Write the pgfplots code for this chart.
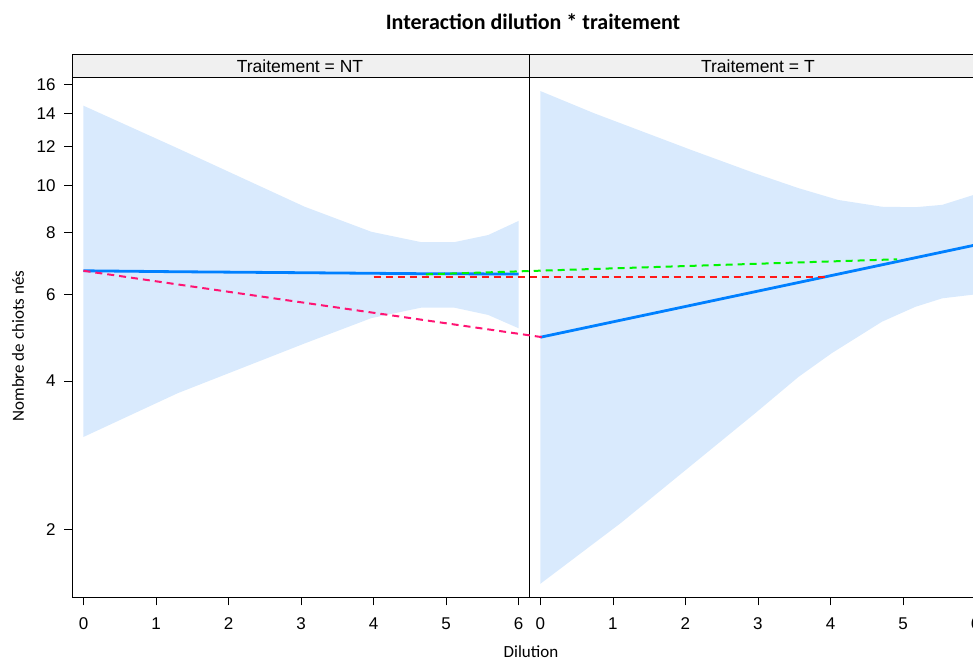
\documentclass[border=0pt]{standalone}
\usepackage{fontspec}
\setmainfont{Liberation Sans}
\newfontfamily\calibri{Carlito}
\usepackage{pgfplots}
\pgfplotsset{compat=1.18}

\definecolor{fitblue}{RGB}{0,128,255}
\definecolor{bandblue}{RGB}{217,234,253}
\definecolor{stripgray}{RGB}{240,240,240}
\definecolor{dpink}{RGB}{255,20,115}
\definecolor{dred}{RGB}{255,25,25}
\definecolor{dgreen}{RGB}{0,245,0}

\pgfplotsset{
  panel/.style={
    scale only axis, width=456.9pt, height=519.3pt,
    anchor=south west,
    xmin=-0.15, xmax=6.15,
    ymin=1.457, ymax=16.53,
    xtick={0,1,2,3,4,5,6}, xticklabels={0,1,2,3,4,5,6},
    tick pos=left, tick align=outside, major tick length=8.5pt,
    axis line style={line width=1pt},
    every tick/.style={black, line width=0.8pt},
    tick label style={font=\fontsize{17}{20}\selectfont},
    xticklabel style={yshift=-9pt},
    yticklabel style={xshift=-5pt},
    minor tick num=0,
  },
}

\begin{document}
\begin{tikzpicture}
\useasboundingbox (0pt,0pt) rectangle (973pt,-661pt);
\clip (0pt,0pt) rectangle (973pt,-661pt);

% Panel: Traitement = NT
\begin{axis}[ymode=log, panel, at={(72.6pt,-597pt)},
  ytick={2,4,6,8,10,12,14,16}, yticklabels={2,4,6,8,10,12,14,16}]
  \addplot[fill=bandblue, draw=none] coordinates {
    (0,14.50) (1.30,11.88) (3.05,9.04) (3.97,8.04) (4.66,7.66) (5.11,7.66) (5.58,7.92) (6,8.46)
    (6,5.12) (5.58,5.45) (5.11,5.64) (4.66,5.64) (3.97,5.37) (3.05,4.77) (1.30,3.78) (0,3.08)
    (0,14.50)};
  \addplot[fitblue, line width=2.8pt] coordinates {
    (0,6.70) (1.30,6.67) (3.05,6.64) (4.66,6.61) (6,6.60)};
\end{axis}

% Panel: Traitement = T
\begin{axis}[ymode=log, panel, at={(529.5pt,-597pt)}, ytick=\empty]
  \addplot[fill=bandblue, draw=none] coordinates {
    (0,15.53) (0.74,14.0) (2.08,11.79) (2.96,10.57) (3.56,9.86) (4.11,9.33) (4.71,9.04) (5.17,9.02) (5.54,9.12) (6,9.58)
    (6,6.0) (5.54,5.89) (5.17,5.66) (4.71,5.28) (4.02,4.56) (3.56,4.08) (2.96,3.44) (1.11,2.06) (0,1.55)
    (0,15.53)};
  \addplot[fitblue, line width=2.8pt] coordinates {(0,4.91) (6,7.56)};
\end{axis}

% Comparison segments across both panels (right panel x offset by 6.30)
\begin{axis}[ymode=log, panel, at={(72.6pt,-597pt)}, hide axis, clip=false]
  \addplot[dpink, line width=2pt, dash pattern=on 7pt off 5pt] coordinates {(0,6.70) (6.33,4.91)};
  \addplot[dred, line width=2pt, dash pattern=on 7pt off 5pt] coordinates {(4.0,6.52) (10.27,6.52)};
  \addplot[dgreen, line width=2pt, dash pattern=on 7pt off 5pt] coordinates {(4.72,6.59) (11.22,7.07)};
\end{axis}

% Strips
\draw[line width=1pt, fill=stripgray] (72.6pt,-55pt) rectangle (529.5pt,-77.7pt);
\draw[line width=1pt, fill=stripgray] (529.5pt,-55pt) rectangle (986.4pt,-77.7pt);
\node[font=\fontsize{17.5}{20}\selectfont] at (300pt,-66.4pt) {Traitement = NT};
\node[font=\fontsize{17.5}{20}\selectfont] at (757.9pt,-66.4pt) {Traitement = T};

% Titles
\node[font=\calibri\bfseries\fontsize{22}{26}\selectfont] at (533pt,-22pt) {Interaction dilution * traitement};
\node[font=\calibri\fontsize{17}{20}\selectfont, rotate=90] at (18pt,-346pt) {Nombre de chiots nés};
\node[font=\calibri\fontsize{17}{20}\selectfont] at (531pt,-652pt) {Dilution};
\end{tikzpicture}
\end{document}
